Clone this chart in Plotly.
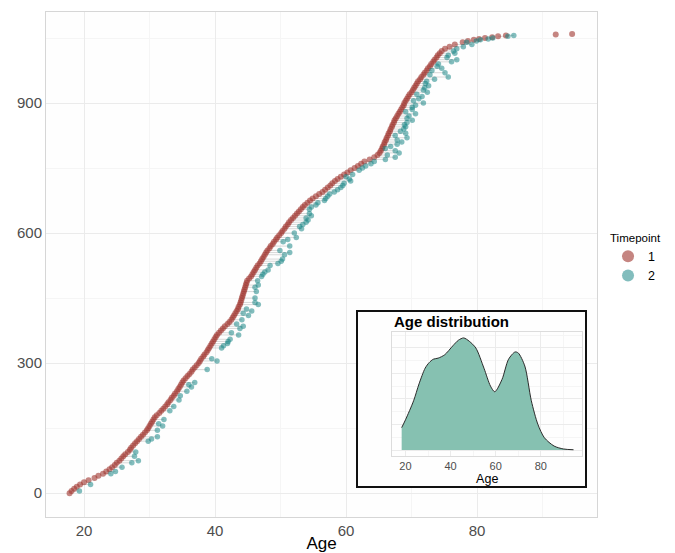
import plotly.graph_objects as go

# Participant rank (sorted by age at first visit) and age at timepoint 1
rank_t1 = [
    0, 5, 10, 15, 20, 25, 30, 35, 40, 45,
    50, 55, 60, 65, 70, 75, 80, 85, 90, 95,
    100, 105, 110, 115, 120, 125, 130, 135, 140, 145,
    150, 155, 160, 165, 170, 175, 180, 185, 190, 195,
    200, 205, 210, 215, 220, 225, 230, 235, 240, 245,
    250, 255, 260, 265, 270, 275, 280, 285, 290, 295,
    300, 305, 310, 315, 320, 325, 330, 335, 340, 345,
    350, 355, 360, 365, 370, 375, 380, 385, 390, 395,
    400, 405, 410, 415, 420, 425, 430, 435, 440, 445,
    450, 455, 460, 465, 470, 475, 480, 485, 490, 495,
    500, 505, 510, 515, 520, 525, 530, 535, 540, 545,
    550, 555, 560, 565, 570, 575, 580, 585, 590, 595,
    600, 605, 610, 615, 620, 625, 630, 635, 640, 645,
    650, 655, 660, 665, 670, 675, 680, 685, 690, 695,
    700, 705, 710, 715, 720, 725, 730, 735, 740, 745,
    750, 755, 760, 765, 770, 775, 780, 785, 790, 795,
    800, 805, 810, 815, 820, 825, 830, 835, 840, 845,
    850, 855, 860, 865, 870, 875, 880, 885, 890, 895,
    900, 905, 910, 915, 920, 925, 930, 935, 940, 945,
    950, 955, 960, 965, 970, 975, 980, 985, 990, 995,
    1000, 1005, 1010, 1015, 1020, 1025, 1030, 1035, 1040, 1043,
    1046, 1048, 1050, 1052, 1054, 1056, 1058, 1059,
]
age_t1 = [
    17.8, 18.1, 18.5, 18.9, 19.4, 20.0, 20.7, 21.6, 22.2, 22.9,
    23.4, 23.9, 24.3, 24.7, 25.0, 25.4, 25.7, 26.0, 26.3, 26.7,
    27.0, 27.2, 27.5, 27.8, 28.1, 28.4, 28.7, 29.0, 29.3, 29.6,
    29.8, 30.0, 30.2, 30.4, 30.6, 30.8, 31.1, 31.5, 31.8, 32.1,
    32.4, 32.7, 32.9, 33.2, 33.4, 33.7, 33.9, 34.2, 34.4, 34.6,
    34.8, 35.0, 35.2, 35.5, 35.8, 36.1, 36.4, 36.6, 36.9, 37.2,
    37.5, 37.7, 37.9, 38.2, 38.4, 38.7, 38.9, 39.1, 39.3, 39.5,
    39.7, 39.9, 40.1, 40.3, 40.6, 40.9, 41.2, 41.5, 41.9, 42.2,
    42.5, 42.7, 42.9, 43.1, 43.3, 43.5, 43.6, 43.8, 43.9, 44.0,
    44.1, 44.2, 44.3, 44.4, 44.5, 44.6, 44.7, 44.8, 44.9, 45.2,
    45.5, 45.7, 45.9, 46.1, 46.3, 46.5, 46.8, 47.0, 47.2, 47.4,
    47.6, 47.8, 48.0, 48.3, 48.5, 48.8, 49.0, 49.3, 49.5, 49.8,
    50.1, 50.3, 50.6, 50.8, 51.1, 51.3, 51.6, 51.9, 52.2, 52.5,
    52.8, 53.1, 53.4, 53.7, 54.1, 54.5, 54.9, 55.4, 55.9, 56.4,
    56.8, 57.2, 57.6, 57.9, 58.3, 58.7, 59.2, 59.7, 60.2, 60.7,
    61.3, 61.8, 62.3, 62.8, 63.6, 64.3, 64.8, 65.1, 65.3, 65.5,
    65.6, 65.8, 65.9, 66.1, 66.2, 66.4, 66.5, 66.7, 66.8, 67.0,
    67.1, 67.3, 67.4, 67.6, 67.8, 68.0, 68.2, 68.4, 68.6, 68.8,
    68.9, 69.1, 69.3, 69.5, 69.7, 70.0, 70.2, 70.4, 70.6, 70.8,
    71.0, 71.3, 71.5, 71.8, 72.0, 72.3, 72.5, 72.8, 73.0, 73.3,
    73.5, 73.8, 74.0, 74.3, 74.6, 75.1, 75.8, 76.6, 77.8, 78.6,
    79.5, 80.3, 81.2, 82.3, 83.2, 84.4, 92.0, 94.5,
]

# Participants seen again at timepoint 2: their rank and age at the second visit
rank_t2 = [
    5, 20, 45, 50, 60, 70, 75, 85, 95, 120,
    125, 130, 145, 155, 160, 170, 190, 200, 215, 225,
    235, 245, 250, 255, 285, 305, 310, 335, 340, 345,
    350, 355, 365, 370, 380, 385, 390, 400, 410, 415,
    420, 425, 435, 440, 450, 465, 475, 480, 490, 500,
    505, 510, 515, 525, 530, 535, 540, 550, 555, 560,
    570, 580, 585, 590, 600, 610, 615, 620, 625, 630,
    635, 640, 645, 655, 660, 665, 670, 675, 680, 685,
    690, 695, 700, 705, 710, 715, 720, 725, 730, 735,
    745, 750, 755, 760, 765, 770, 775, 780, 785, 790,
    795, 800, 805, 810, 815, 820, 825, 830, 835, 840,
    845, 850, 855, 860, 865, 870, 875, 880, 885, 890,
    895, 900, 905, 910, 915, 920, 925, 930, 935, 940,
    945, 950, 955, 960, 965, 970, 975, 980, 985, 990,
    995, 1000, 1005, 1010, 1015, 1020, 1025, 1030, 1035, 1040,
    1043, 1046, 1048, 1050, 1054, 1056,
]
age_t2 = [
    19.3, 21.0, 24.1, 24.8, 25.8, 27.3, 28.3, 27.7, 27.9, 29.8,
    30.3, 31.2, 31.2, 32.0, 31.4, 32.2, 33.1, 33.7, 34.5, 34.7,
    35.7, 36.4, 36.0, 36.9, 38.8, 40.3, 39.5, 41.0, 41.3, 41.9,
    42.0, 42.3, 43.6, 42.5, 43.8, 44.3, 43.3, 44.1, 45.1, 44.3,
    45.6, 44.8, 46.6, 46.1, 46.1, 46.3, 46.1, 46.6, 46.5, 47.1,
    47.3, 47.6, 48.1, 48.4, 49.6, 50.1, 50.3, 50.6, 51.4, 49.9,
    51.4, 50.4, 51.1, 52.4, 52.1, 53.2, 52.9, 53.4, 53.9, 54.2,
    53.9, 54.7, 54.4, 54.4, 54.7, 55.4, 55.7, 56.7, 56.9, 57.2,
    57.5, 58.2, 58.7, 59.2, 59.5, 59.7, 60.7, 60.5, 60.0, 61.0,
    62.0, 62.5, 63.0, 63.8, 64.3, 66.0, 67.5, 66.3, 68.1, 67.5,
    66.0, 66.8, 67.8, 68.5, 67.8, 69.3, 67.5, 69.1, 68.3, 68.8,
    69.1, 68.9, 69.3, 70.1, 69.3, 69.6, 70.6, 69.1, 70.1, 70.1,
    70.6, 71.8, 70.3, 71.1, 71.6, 70.8, 72.4, 71.8, 72.0, 72.6,
    72.1, 72.3, 73.5, 75.6, 72.8, 75.1, 73.1, 74.6, 73.9, 74.1,
    76.1, 76.9, 75.4, 75.6, 76.6, 76.4, 76.9, 77.9, 79.2, 78.4,
    79.9, 80.5, 81.7, 82.4, 84.7, 85.6,
]

# Age density curve for the inset (relative to its peak)
density_age = [
    18.3, 20.0, 23.6, 26.0, 28.7, 30.5, 32.3, 34.5, 37.4, 41.0,
    43.5, 45.8, 48.3, 51.2, 54.8, 57.7, 59.6, 62.8, 65.7, 68.6,
    70.0, 72.9, 75.8, 78.7, 81.6, 85.9, 90.0, 94.5,
]
density_value = [
    0.20, 0.27, 0.44, 0.59, 0.73, 0.78, 0.81, 0.82, 0.85, 0.93,
    0.98, 1.00, 0.97, 0.91, 0.73, 0.57, 0.52, 0.63, 0.81, 0.875,
    0.866, 0.75, 0.44, 0.23, 0.11, 0.036, 0.010, 0.003,
]

RED = "#a13a33"
TEAL = "#1c8787"
GRID = "#ebebeb"
GRID_MINOR = "#f5f5f5"
TICK_GREY = "#4d4d4d"
FONT = "Liberation Sans, Arial, sans-serif"

age_at_rank = dict(zip(rank_t1, age_t1))
seg_x, seg_y = [], []
for r, a in zip(rank_t2, age_t2):
    seg_x += [age_at_rank[r], a, None]
    seg_y += [r, r, None]

fig = go.Figure()

# grey links between the two visits of the same participant
fig.add_trace(go.Scatter(
    x=seg_x, y=seg_y, mode="lines",
    line=dict(color="rgba(170,170,170,0.45)", width=1),
    hoverinfo="skip", showlegend=False,
))
fig.add_trace(go.Scatter(
    x=age_t1, y=rank_t1, mode="markers", name="1",
    marker=dict(color=RED, size=6, opacity=0.62, line=dict(width=0)),
))
fig.add_trace(go.Scatter(
    x=age_t2, y=rank_t2, mode="markers", name="2",
    marker=dict(color=TEAL, size=5.5, opacity=0.55, line=dict(width=0)),
))

# inset frame (white card with black border)
fig.add_trace(go.Scatter(x=[None], y=[None], xaxis="x2", yaxis="y2",
                         showlegend=False, hoverinfo="skip"))
# inset density
fig.add_trace(go.Scatter(
    x=density_age, y=density_value, xaxis="x3", yaxis="y3",
    mode="lines", line=dict(color="#2b2b2b", width=1, shape="spline", smoothing=0.8),
    fill="tozeroy", fillcolor="#86c1b1", showlegend=False, hoverinfo="skip",
))

fig.update_layout(
    width=675, height=553,
    margin=dict(l=46, r=75, t=12, b=36),
    paper_bgcolor="#ffffff", plot_bgcolor="#fefefe",
    font=dict(family=FONT, color="#000000"),
    xaxis=dict(
        domain=[0, 1], range=[14.2, 98.3],
        tickvals=[20, 40, 60, 80], ticks="",
        tickfont=dict(size=15, color=TICK_GREY),
        showgrid=True, gridcolor=GRID, gridwidth=1, zeroline=False,
        minor=dict(tickvals=[30, 50, 70, 90], showgrid=True, gridcolor=GRID_MINOR),
        showline=True, mirror=True, linecolor="#d6d6d6", linewidth=1,
        title=dict(text="Age", font=dict(size=17, color="#000000"), standoff=6),
        automargin=False,
    ),
    yaxis=dict(
        domain=[0, 1], range=[-55, 1110],
        tickvals=[0, 300, 600, 900], ticks="",
        tickfont=dict(size=15, color=TICK_GREY),
        showgrid=True, gridcolor=GRID, gridwidth=1, zeroline=False,
        minor=dict(tickvals=[150, 450, 750, 1050], showgrid=True, gridcolor=GRID_MINOR),
        showline=True, mirror=True, linecolor="#d6d6d6", linewidth=1,
        automargin=False,
    ),
    xaxis2=dict(
        domain=[0.5668, 0.9783], range=[0, 1], anchor="y2",
        showgrid=False, zeroline=False, showticklabels=False, ticks="",
        showline=True, mirror=True, linecolor="#111111", linewidth=2,
    ),
    yaxis2=dict(
        domain=[0.0614, 0.4059], range=[0, 1], anchor="x2",
        showgrid=False, zeroline=False, showticklabels=False, ticks="",
        showline=True, mirror=True, linecolor="#111111", linewidth=2,
    ),
    xaxis3=dict(
        domain=[0.6287, 0.9729], range=[14.2, 98.3], anchor="y3",
        tickvals=[20, 40, 60, 80], ticks="",
        tickfont=dict(size=11, color=TICK_GREY),
        showgrid=True, gridcolor=GRID, zeroline=False,
        minor=dict(tickvals=[30, 50, 70, 90], showgrid=True, gridcolor=GRID_MINOR),
        showline=True, mirror=True, linecolor="#dcdcdc", linewidth=1,
        title=dict(text="Age", font=dict(size=12.5, color="#000000"), standoff=1),
    ),
    yaxis3=dict(
        domain=[0.1214, 0.3657], range=[-0.05, 1.05], anchor="x3",
        tickvals=[0, 0.228, 0.456, 0.684, 0.912], ticks="",
        showticklabels=False,
        showgrid=True, gridcolor=GRID, zeroline=False,
        minor=dict(tickvals=[0.114, 0.342, 0.570, 0.798, 1.026], showgrid=True,
                   gridcolor=GRID_MINOR),
        showline=True, mirror=True, linecolor="#dcdcdc", linewidth=1,
    ),
    legend=dict(
        x=1.02, y=0.575, xanchor="left", yanchor="top",
        title=dict(text="Timepoint", font=dict(size=11.5, color="#000000")),
        font=dict(size=12.5, color="#000000"),
        itemsizing="constant", bgcolor="rgba(0,0,0,0)",
    ),
    annotations=[dict(
        text="<b>Age distribution</b>", xref="paper", yref="paper",
        x=0.628, y=0.388, xanchor="left", yanchor="middle", showarrow=False,
        font=dict(size=15, color="#000000"),
    )],
)

fig.write_html("out.html")
